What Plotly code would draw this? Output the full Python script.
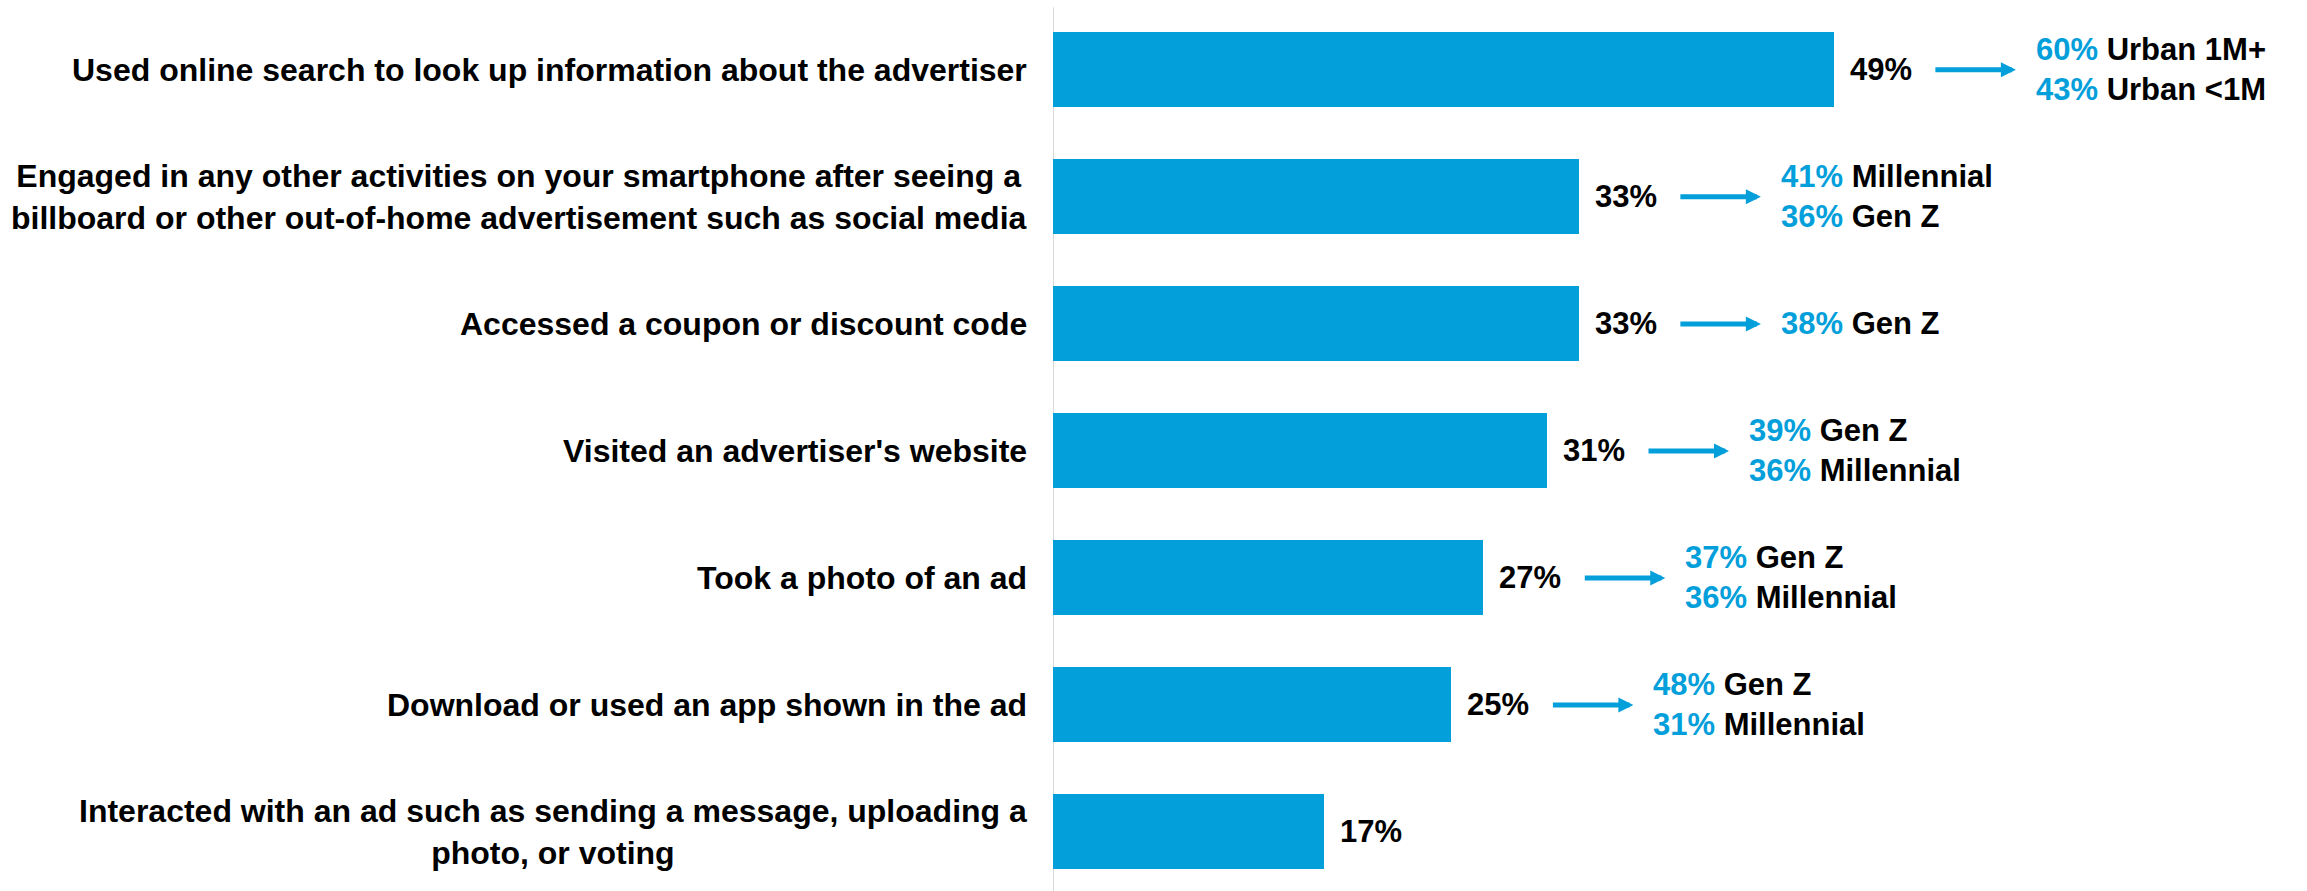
import plotly.graph_objects as go

# Survey responses: share of respondents taking each action after seeing an OOH ad
categories = [
    "Used online search to look up information about the advertiser",
    "Engaged in any other activities on your smartphone after seeing a<br>billboard or other out-of-home advertisement such as social media",
    "Accessed a coupon or discount code",
    "Visited an advertiser's website",
    "Took a photo of an ad",
    "Download or used an app shown in the ad",
    "Interacted with an ad such as sending a message, uploading a<br>photo, or voting",
]
values = [49, 33, 33, 31, 27, 25, 17]

# Segment breakouts shown to the right of each bar (percent, segment)
breakout_pcts = [[60, 43], [41, 36], [38], [39, 36], [37, 36], [48, 31], []]
breakout_groups = [
    ["Urban 1M+", "Urban &lt;1M"],
    ["Millennial", "Gen Z"],
    ["Gen Z"],
    ["Gen Z", "Millennial"],
    ["Gen Z", "Millennial"],
    ["Gen Z", "Millennial"],
    [],
]

BLUE = "#039fdb"
FONT = "Liberation Sans, Arial, Helvetica, sans-serif"
FS = 31
FS_CAT = 32

fig = go.Figure()
fig.add_trace(go.Bar(
    x=values,
    y=list(range(len(categories))),
    orientation="h",
    marker=dict(color=BLUE, line=dict(width=0)),
    width=0.59,
    hoverinfo="skip",
))

annotations = []
for i, (cat, v) in enumerate(zip(categories, values)):
    # category label left of the axis
    annotations.append(dict(
        x=0, y=i, xref="x", yref="y", text=cat, showarrow=False,
        xanchor="right", yanchor="middle", align="center", xshift=-24,
        font=dict(family=FONT, size=FS_CAT, color="#000000", weight="bold"),
    ))
    # value label at bar end
    annotations.append(dict(
        x=v, y=i, xref="x", yref="y", text=f"{v}%", showarrow=False,
        xanchor="left", yanchor="middle", xshift=14,
        font=dict(family=FONT, size=FS, color="#000000", weight="bold"),
    ))
    if breakout_pcts[i]:
        annotations.append(dict(
            x=v, y=i, xref="x", yref="y", text="", showarrow=True,
            xshift=182, ax=-82, ay=0, axref="pixel", ayref="pixel",
            arrowhead=2, arrowsize=0.6, arrowwidth=5, arrowcolor=BLUE,
            standoff=0, startstandoff=0,
        ))
        lines = [
            f"<span style='color:{BLUE}'>{p}%</span> {g}"
            for p, g in zip(breakout_pcts[i], breakout_groups[i])
        ]
        annotations.append(dict(
            x=v, y=i, xref="x", yref="y", text="<br>".join(lines),
            showarrow=False, xanchor="left", yanchor="middle", align="left",
            xshift=200,
            font=dict(family=FONT, size=FS, color="#000000", weight="bold"),
        ))

fig.update_layout(
    width=2307, height=891,
    margin=dict(l=1053, r=11, t=0, b=0),
    paper_bgcolor="white", plot_bgcolor="white",
    showlegend=False,
    bargap=0,
    xaxis=dict(range=[0, 78], visible=False, fixedrange=True),
    yaxis=dict(range=[6.465, -0.55], visible=False, fixedrange=True),
    annotations=annotations,
    shapes=[dict(
        type="line", xref="x", yref="paper", x0=0, x1=0, y0=0, y1=0.992,
        line=dict(color="#d9d9d9", width=2), layer="below",
    )],
)

fig.write_html("out.html")
